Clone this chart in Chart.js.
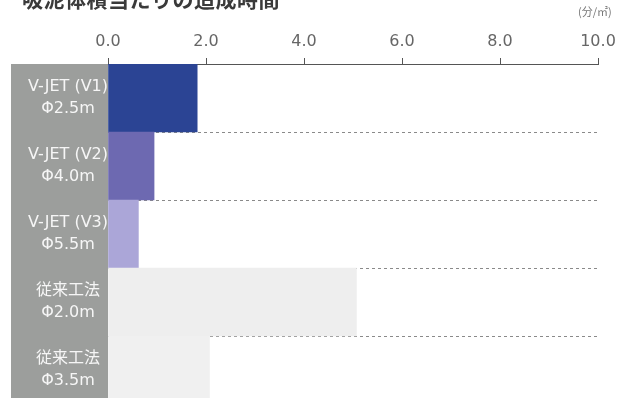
<!doctype html>
<html lang="ja">
  <head>
    <meta charset="utf-8">
    <title>吸泥体積当たりの造成時間</title>
    <style>
      * { margin: 0; padding: 0; }
      body {
        width: 619px;
        height: 398px;
        overflow: hidden;
        background: #fff;
        position: relative;
        font-family: "Noto Sans CJK JP", "Noto Sans", sans-serif;
      }
      .title {
        position: absolute;
        left: 22px;
        top: -17px;
        font-size: 21px;
        line-height: 30px;
        font-weight: bold;
        color: #3a3a3a;
        letter-spacing: 0.5px;
      }
      .unit {
        position: absolute;
        left: 578px;
        top: 4px;
        font-size: 11px;
        line-height: 14px;
        color: #777;
      }
      #myChart {
        position: absolute;
        left: 0;
        top: 0;
      }
    </style>
  </head>
  <body>
    <canvas id="myChart" width="619" height="406"></canvas>
    <div class="title">吸泥体積当たりの造成時間</div>
    <div class="unit">(分/㎡)</div>
    <script src="https://cdn.jsdelivr.net/npm/chart.js"></script>
    <script>
    // data
    const categories = [
      ['V-JET (V1)', 'Φ2.5m'],
      ['V-JET (V2)', 'Φ4.0m'],
      ['V-JET (V3)', 'Φ5.5m'],
      ['従来工法', 'Φ2.0m'],
      ['従来工法', 'Φ3.5m']
    ];
    const times = [1.82, 0.94, 0.62, 5.07, 2.07];
    const barColors = ['#2b4494', '#6d69b1', '#aba6d8', '#eeeeee', '#f0f0f0'];
    const axisMin = 0;
    const axisMax = 10;
    const axisStep = 2;

    const data = {
      labels: categories,
      datasets: [{
        data: times,
        backgroundColor: barColors,
        borderWidth: 0,
        barPercentage: 1,
        categoryPercentage: 1
      }]
    };

    // config
    const config = {
      type: 'bar',
      data,
      options: {
        indexAxis: 'y',
        responsive: false,
        animation: false,
        layout: {
          padding: { top: 18, left: 11, right: 21, bottom: 2 }
        },
        plugins: {
          legend: { display: false },
          tooltip: { enabled: false }
        },
        scales: {
          x: {
            position: 'top',
            min: axisMin,
            max: axisMax,
            afterFit: (scale) => {
              scale.height = 46;
              scale.paddingRight = 0;
            },
            ticks: {
              stepSize: axisStep,
              padding: 7,
              color: '#666',
              font: { family: '"DejaVu Sans"', size: 16 },
              callback: (v) => v.toFixed(1)
            },
            grid: {
              drawOnChartArea: false,
              drawTicks: true,
              tickLength: 6,
              color: '#555'
            },
            border: { color: '#555', width: 1 }
          },
          y: {
            // fixed label column, no extra room reserved for the two-line labels
            afterFit: (scale) => {
              scale.width = 97;
              scale.paddingTop = 0;
              scale.paddingBottom = 0;
            },
            backgroundColor: '#9c9e9c',
            ticks: {
              crossAlign: 'center',
              padding: 0,
              color: '#f6f6f6',
              font: { family: '"DejaVu Sans", "Noto Sans CJK JP"', size: 16, lineHeight: 1.4 }
            },
            grid: {
              drawTicks: false,
              color: (ctx) => ctx.index === 0 ? 'rgba(0,0,0,0)' : '#8a8a8a',
              lineWidth: 1
            },
            border: { display: false, dash: [3, 3] }
          }
        }
      }
    };

    const myChart = new Chart(
      document.getElementById('myChart'),
      config
    );
    </script>
  </body>
</html>
